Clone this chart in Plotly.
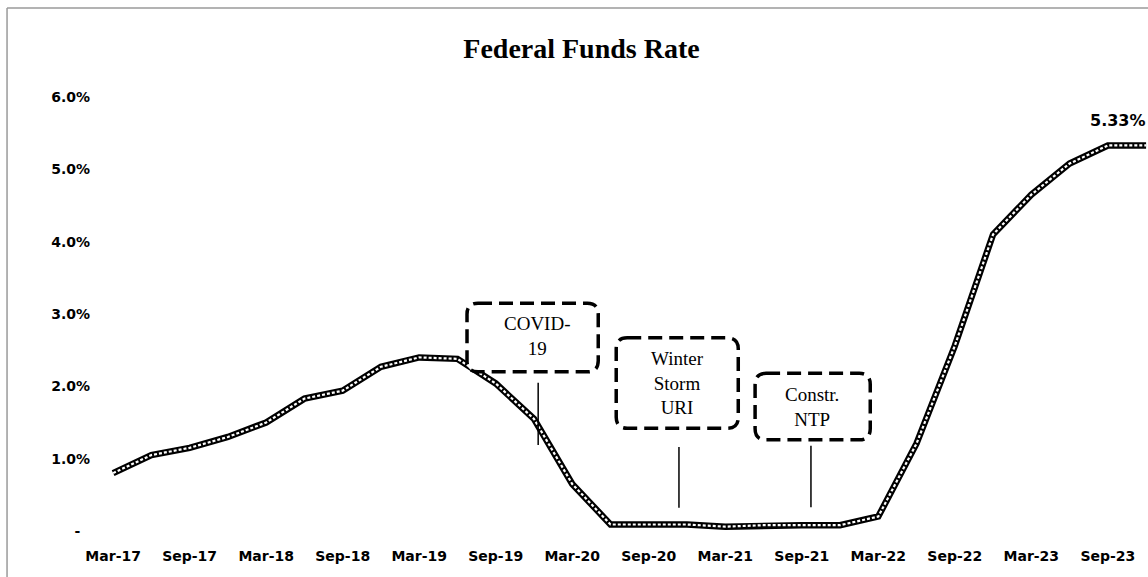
import plotly.graph_objects as go

# ---------------- data ----------------
quarters = ["Mar-17", "Jun-17", "Sep-17", "Dec-17",
            "Mar-18", "Jun-18", "Sep-18", "Dec-18",
            "Mar-19", "Jun-19", "Sep-19", "Dec-19",
            "Mar-20", "Jun-20", "Sep-20", "Dec-20",
            "Mar-21", "Jun-21", "Sep-21", "Dec-21",
            "Mar-22", "Jun-22", "Sep-22", "Dec-22",
            "Mar-23", "Jun-23", "Sep-23", "Dec-23"]
rates = [0.80, 1.05, 1.15, 1.30,
         1.50, 1.83, 1.94, 2.27,
         2.40, 2.38, 2.04, 1.55,
         0.65, 0.09, 0.09, 0.09,
         0.06, 0.08, 0.08, 0.08,
         0.20, 1.21, 2.56, 4.10,
         4.65, 5.08, 5.33, 5.33]
x_tick_labels = ["Mar-17", "Sep-17", "Mar-18", "Sep-18", "Mar-19", "Sep-19",
                 "Mar-20", "Sep-20", "Mar-21", "Sep-21", "Mar-22", "Sep-22",
                 "Mar-23", "Sep-23"]
y_tick_vals = [0, 1, 2, 3, 4, 5, 6]
y_tick_text = ["-\u00a0\u00a0", "1.0%", "2.0%", "3.0%", "4.0%", "5.0%", "6.0%"]

# callout boxes (in axis units: category index, percent)
callouts = [
    dict(text="COVID-<br>19", box=(9.25, 12.68, 2.20, 3.15),
         tx=11.08, ty=2.69, ptr=(11.11, 2.05, 1.19)),
    dict(text="Winter<br>Storm<br>URI", box=(13.15, 16.34, 1.42, 2.67),
         tx=14.74, ty=2.05, ptr=(14.79, 1.16, 0.32)),
    dict(text="Constr.<br>NTP", box=(16.78, 19.79, 1.26, 2.18),
         tx=18.27, ty=1.71, ptr=(18.24, 1.18, 0.33)),
]

X_RANGE = [-0.5, 27.05]
Y_RANGE = [0, 6]


def px(v):
    return (v - X_RANGE[0]) / (X_RANGE[1] - X_RANGE[0])


def py(v):
    return (v - Y_RANGE[0]) / (Y_RANGE[1] - Y_RANGE[0])


TICK_FONT = "DejaVu Sans, Verdana, sans-serif"
SERIF = "Liberation Serif, Times New Roman, serif"

fig = go.Figure()
# thick black line with a dotted white core
fig.add_trace(go.Scatter(x=quarters, y=rates, mode="lines",
                         line=dict(color="black", width=6.5),
                         hoverinfo="skip", showlegend=False))
fig.add_trace(go.Scatter(x=quarters, y=rates, mode="lines",
                         line=dict(color="white", width=2.2, dash="3px,2px"),
                         hoverinfo="skip", showlegend=False))

shapes = []
annotations = []

W_PX, H_PX = 1054.0, 434.0
R = 11.0
for c in callouts:
    x0, x1, y0, y1 = c["box"]
    a0, a1, b0, b1 = px(x0), px(x1), py(y0), py(y1)
    rx, ry = R / W_PX, R / H_PX
    path = (f"M {a0+rx},{b1} L {a1-rx},{b1} Q {a1},{b1} {a1},{b1-ry} "
            f"L {a1},{b0+ry} Q {a1},{b0} {a1-rx},{b0} "
            f"L {a0+rx},{b0} Q {a0},{b0} {a0},{b0+ry} "
            f"L {a0},{b1-ry} Q {a0},{b1} {a0+rx},{b1} Z")
    shapes.append(dict(type="path", xref="paper", yref="paper", path=path,
                       line=dict(color="black", width=3.5, dash="14px,7px"),
                       fillcolor="white", layer="above"))
    annotations.append(dict(x=px(c["tx"]), y=py(c["ty"]), xref="paper", yref="paper",
                            text=c["text"], showarrow=False,
                            font=dict(family=SERIF, size=19, color="black"),
                            xanchor="center", yanchor="middle"))
    pxv, pt, pb = c["ptr"]
    shapes.append(dict(type="line", xref="paper", yref="paper",
                       x0=px(pxv), x1=px(pxv), y0=py(pt), y1=py(pb),
                       line=dict(color="black", width=1.5), layer="above"))

# outer chart border (left and top edges visible in the crop)
shapes.append(dict(type="line", xref="paper", yref="paper",
                   x0=-0.0825, x1=-0.0825, y0=-0.2, y1=1.205,
                   line=dict(color="#9a9a9a", width=1.5)))
shapes.append(dict(type="line", xref="paper", yref="paper",
                   x0=-0.0825, x1=1.1, y0=1.205, y1=1.205,
                   line=dict(color="#9a9a9a", width=1.5)))

# end value label
annotations.append(dict(x=quarters[-2], y=rates[-2], xref="x", yref="y",
                        text=f"<b>{rates[-2]:.2f}%</b>", showarrow=False,
                        xshift=10, yshift=25,
                        font=dict(family=TICK_FONT, size=16, color="black"),
                        xanchor="center", yanchor="middle"))

fig.update_layout(
    width=1148, height=577,
    margin=dict(l=94, r=0, t=97, b=46),
    paper_bgcolor="white", plot_bgcolor="white",
    title=dict(text="<b>Federal Funds Rate</b>", x=581.5 / 1148, xref="container",
               xanchor="center", y=1 - 48 / 577, yref="container", yanchor="middle",
               font=dict(family=SERIF, size=28, color="black")),
    xaxis=dict(type="category", range=X_RANGE, tickmode="array",
               tickvals=x_tick_labels, ticktext=x_tick_labels,
               showgrid=False, zeroline=False, showline=False, ticks="",
               ticklabelstandoff=15,
               tickfont=dict(family=TICK_FONT, size=14, color="black",
                             weight="bold")),
    yaxis=dict(range=Y_RANGE, tickmode="array", tickvals=y_tick_vals,
               ticktext=y_tick_text, showgrid=False, zeroline=False,
               showline=False, ticks="", ticklabelstandoff=3,
               tickfont=dict(family=TICK_FONT, size=14, color="black",
                             weight="bold")),
    shapes=shapes,
    annotations=annotations,
    showlegend=False,
)

fig.write_html("out.html")
